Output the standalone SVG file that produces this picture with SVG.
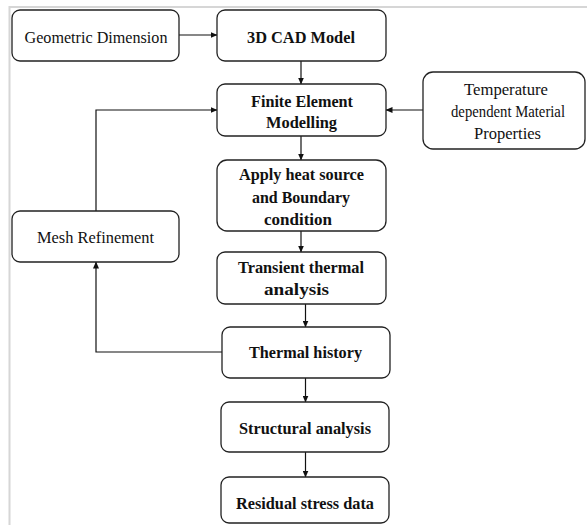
<svg xmlns="http://www.w3.org/2000/svg" width="587" height="525" viewBox="0 0 587 525">
<style>
.bx{fill:#fff;stroke:#222;stroke-width:1.3}
.t{font-family:"Liberation Serif","Times New Roman",serif;font-size:17.5px;fill:#111;text-anchor:middle}
.b{font-weight:bold}
.c{fill:none;stroke:#111;stroke-width:1.2}
.frame{stroke:#d6d6d6;stroke-width:2;fill:none}
</style>
<defs>
<marker id="ah" markerWidth="7" markerHeight="6" refX="6.5" refY="3" orient="auto" markerUnits="userSpaceOnUse">
<path d="M0,0 L7,3 L0,6 Z" fill="#111"/>
</marker>
</defs>
<rect width="587" height="525" fill="#fff"/>
<path class="frame" d="M9.5,525 V7 H587"/>
<g id="connectors">
<line class="c" x1="179" y1="35" x2="217" y2="35" marker-end="url(#ah)"/>
<line class="c" x1="301" y1="61" x2="301" y2="84" marker-end="url(#ah)"/>
<line class="c" x1="301" y1="136" x2="301" y2="160" marker-end="url(#ah)"/>
<line class="c" x1="301" y1="231" x2="301" y2="252" marker-end="url(#ah)"/>
<line class="c" x1="305.5" y1="304" x2="305.5" y2="327" marker-end="url(#ah)"/>
<line class="c" x1="305.5" y1="378" x2="305.5" y2="402" marker-end="url(#ah)"/>
<line class="c" x1="305.5" y1="452" x2="305.5" y2="477" marker-end="url(#ah)"/>
<line class="c" x1="423" y1="110" x2="386" y2="110" marker-end="url(#ah)"/>
<polyline class="c" points="96,211 96,110 217,110" marker-end="url(#ah)"/>
<polyline class="c" points="222,352 96,352 96,262" marker-end="url(#ah)"/>
</g>
<g id="geometric">
<rect class="bx" x="12" y="10" width="167" height="51" rx="8"/>
<text class="t" x="96" y="43" textLength="143" lengthAdjust="spacingAndGlyphs">Geometric Dimension</text>
</g>
<g id="cad">
<rect class="bx" x="217" y="10" width="169" height="51" rx="8"/>
<text class="t b" x="301" y="43" textLength="108" lengthAdjust="spacingAndGlyphs">3D CAD Model</text>
</g>
<g id="fem">
<rect class="bx" x="217" y="84" width="169" height="52" rx="8"/>
<text class="t b" x="302" y="107" textLength="102" lengthAdjust="spacingAndGlyphs">Finite Element</text>
<text class="t b" x="301.5" y="128" textLength="71" lengthAdjust="spacingAndGlyphs">Modelling</text>
</g>
<g id="temperature">
<rect class="bx" x="423" y="72" width="162" height="77" rx="10"/>
<text class="t" x="506" y="95" textLength="84" lengthAdjust="spacingAndGlyphs">Temperature</text>
<text class="t" x="508" y="117" textLength="114" lengthAdjust="spacingAndGlyphs">dependent Material</text>
<text class="t" x="507.5" y="139" textLength="67" lengthAdjust="spacingAndGlyphs">Properties</text>
</g>
<g id="apply">
<rect class="bx" x="217" y="160" width="169" height="71" rx="10"/>
<text class="t b" x="301.5" y="180" textLength="125" lengthAdjust="spacingAndGlyphs">Apply heat source</text>
<text class="t b" x="301" y="203" textLength="98" lengthAdjust="spacingAndGlyphs">and Boundary</text>
<text class="t b" x="298" y="225" textLength="68" lengthAdjust="spacingAndGlyphs">condition</text>
</g>
<g id="mesh">
<rect class="bx" x="12" y="211" width="167" height="51" rx="8"/>
<text class="t" x="95.5" y="243" textLength="117" lengthAdjust="spacingAndGlyphs">Mesh Refinement</text>
</g>
<g id="transient">
<rect class="bx" x="217" y="252" width="169" height="52" rx="8"/>
<text class="t b" x="301" y="273" textLength="126" lengthAdjust="spacingAndGlyphs">Transient thermal</text>
<text class="t b" x="296.5" y="295" textLength="65" lengthAdjust="spacingAndGlyphs">analysis</text>
</g>
<g id="history">
<rect class="bx" x="222" y="327" width="168" height="51" rx="8"/>
<text class="t b" x="305.5" y="358" textLength="113" lengthAdjust="spacingAndGlyphs">Thermal history</text>
</g>
<g id="structural">
<rect class="bx" x="221" y="402" width="168" height="50" rx="8"/>
<text class="t b" x="305" y="434" textLength="132" lengthAdjust="spacingAndGlyphs">Structural analysis</text>
</g>
<g id="residual">
<rect class="bx" x="221" y="477" width="168" height="46" rx="8"/>
<text class="t b" x="305" y="509" textLength="138" lengthAdjust="spacingAndGlyphs">Residual stress data</text>
</g>
</svg>
